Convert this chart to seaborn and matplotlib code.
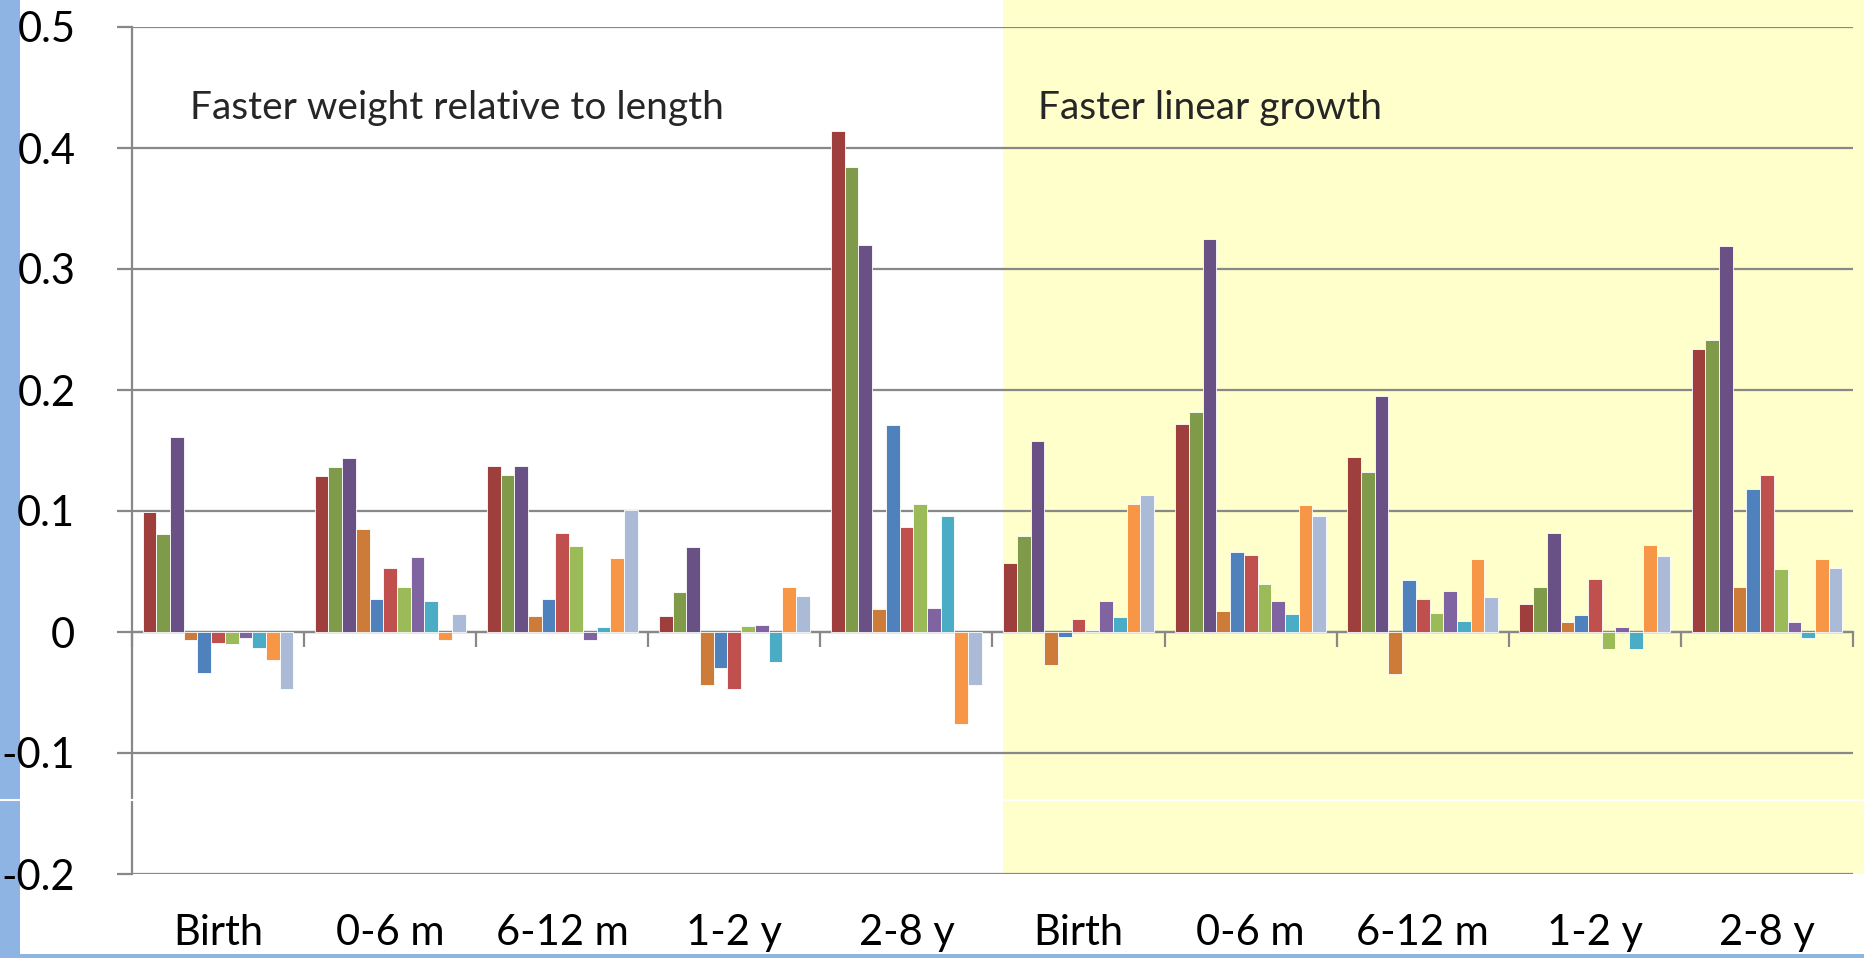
import numpy as np
import pandas as pd
import matplotlib
matplotlib.use("Agg")
import matplotlib.pyplot as plt
import seaborn as sns
from matplotlib.patches import Rectangle
from matplotlib.lines import Line2D
from matplotlib.ticker import FuncFormatter

# ---------------- data ----------------
groups = ["Birth", "0-6 m", "6-12 m", "1-2 y", "2-8 y",
          "Birth", "0-6 m", "6-12 m", "1-2 y", "2-8 y"]
group_keys = [f"g{i}" for i in range(len(groups))]

s01 = [0.099, 0.129, 0.137, 0.013, 0.414, 0.057, 0.172, 0.145, 0.023, 0.234]
s02 = [0.081, 0.136, 0.130, 0.033, 0.384, 0.079, 0.182, 0.132, 0.037, 0.241]
s03 = [0.161, 0.144, 0.137, 0.070, 0.320, 0.158, 0.325, 0.195, 0.082, 0.319]
s04 = [-0.007, 0.085, 0.013, -0.044, 0.019, -0.027, 0.017, -0.035, 0.008, 0.037]
s05 = [-0.034, 0.027, 0.027, -0.030, 0.171, -0.004, 0.066, 0.043, 0.014, 0.118]
s06 = [-0.009, 0.053, 0.082, -0.047, 0.087, 0.011, 0.064, 0.027, 0.044, 0.130]
s07 = [-0.010, 0.037, 0.071, 0.005, 0.106, 0.002, 0.040, 0.016, -0.014, 0.052]
s08 = [-0.005, 0.062, -0.007, 0.006, 0.020, 0.026, 0.026, 0.034, 0.004, 0.008]
s09 = [-0.013, 0.026, 0.004, -0.025, 0.096, 0.012, 0.015, 0.009, -0.014, -0.005]
s10 = [-0.023, -0.007, 0.061, 0.037, -0.076, 0.106, 0.105, 0.060, 0.072, 0.060]
s11 = [-0.047, 0.015, 0.101, 0.030, -0.044, 0.113, 0.096, 0.029, 0.063, 0.053]
series = [s01, s02, s03, s04, s05, s06, s07, s08, s09, s10, s11]
series_names = [f"S{i+1}" for i in range(len(series))]

colors = ["#9E3F3E", "#7F9A48", "#695185", "#CC7B38", "#4F81BD", "#C0504D",
          "#9BBB59", "#8064A2", "#4BACC6", "#F79646", "#AABAD7"]

yticks = [-0.2, -0.1, 0.0, 0.1, 0.2, 0.3, 0.4, 0.5]
label_left = "Faster weight relative to length"
label_right = "Faster linear growth"

rows = []
for name, vals in zip(series_names, series):
    for key, v in zip(group_keys, vals):
        rows.append({"group": key, "series": name, "value": v})
df = pd.DataFrame(rows)

# ---------------- style ----------------
sns.set_style("white")
plt.rcParams["font.family"] = ["Lato", "DejaVu Sans"]
gray = "#888888"
W, H = 1865, 958

fig = plt.figure(figsize=(W / 100, H / 100), dpi=100)
fig.patch.set_facecolor("white")

# slide background decorations
fig.add_artist(Rectangle((1003 / W, 1 - 874 / H), 1 - 1003 / W, 874 / H,
                         transform=fig.transFigure, facecolor="#FFFFCC",
                         edgecolor="none", zorder=-10))
fig.add_artist(Rectangle((0, 0), 20 / W, 1, transform=fig.transFigure,
                         facecolor="#8DB4E2", edgecolor="none", zorder=-9))
fig.add_artist(Rectangle((0, 0), 1, 4 / H, transform=fig.transFigure,
                         facecolor="#8DB4E2", edgecolor="none", zorder=-9))

ax = fig.add_axes([132 / W, 1 - 874 / H, (1853 - 132) / W, (874 - 27) / H])
ax.set_facecolor("none")

sns.barplot(data=df, x="group", y="value", hue="series",
            order=group_keys, hue_order=series_names, palette=colors,
            width=0.876, saturation=1, legend=False, ax=ax,
            edgecolor="white", linewidth=0.6, errorbar=None, zorder=3)

ymin, ymax = -0.2, 0.5
ax.set_ylim(ymin, ymax)
ax.set_xlim(-0.5, len(groups) - 0.5)
ax.set_yticks(yticks)
ax.yaxis.set_major_formatter(FuncFormatter(lambda v, p: "0" if abs(v) < 1e-9 else f"{v:.1f}"))
ax.set_xticks(range(len(groups)), groups)
ax.set_xlabel("")
ax.set_ylabel("")

ax.set_axisbelow(True)
ax.yaxis.grid(True, color=gray, linewidth=1.6)
ax.xaxis.grid(False)
for side in ["top", "right", "bottom"]:
    ax.spines[side].set_visible(False)
ax.spines["left"].set_color(gray)
ax.spines["left"].set_linewidth(1.6)

ax.tick_params(axis="y", length=10.8, width=1.6, color=gray, pad=30,
               labelsize=30, labelcolor="black", left=True)
ax.tick_params(axis="x", length=0, pad=29, labelsize=30, labelcolor="black")

# category axis at zero with boundary ticks
zero_frac = (0 - ymin) / (ymax - ymin)
sec = ax.secondary_xaxis(zero_frac)
sec.set_xticks(np.arange(len(groups) + 1) - 0.5)
sec.tick_params(axis="x", direction="out", length=10.8, width=1.6,
                color=gray, labelbottom=False, labeltop=False)
for sp in sec.spines.values():
    sp.set_color(gray)
    sp.set_linewidth(1.6)

# annotations
ax.text(-0.163, 0.424, label_left, fontsize=28, ha="left", va="baseline")
ax.text(4.764, 0.424, label_right, fontsize=28, ha="left", va="baseline")

# white break line across the slide
fig.add_artist(Line2D([0, 1], [1 - 800 / H, 1 - 800 / H],
                      transform=fig.transFigure, color="white",
                      linewidth=1.5, zorder=10))

fig.savefig("out.png", dpi=100)
